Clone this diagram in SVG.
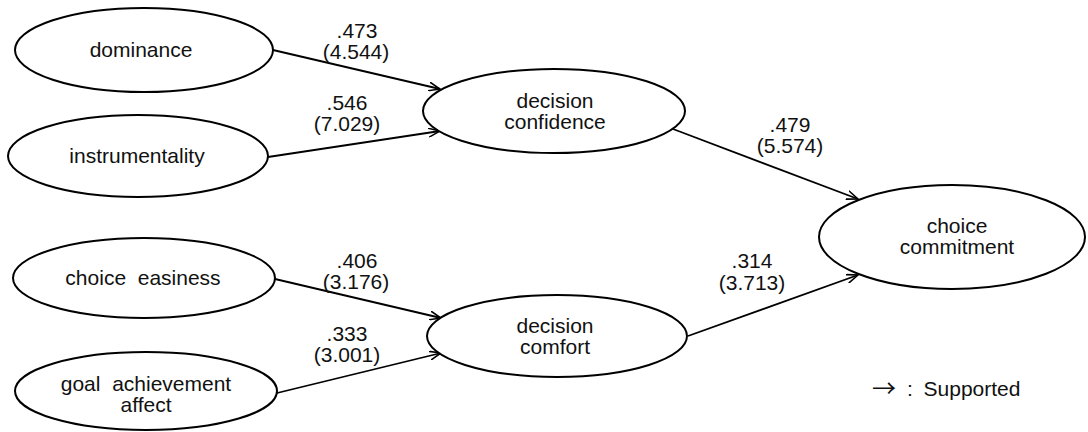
<svg xmlns="http://www.w3.org/2000/svg" width="1088" height="432" viewBox="0 0 1088 432">
<style>
  .node ellipse { fill: #ffffff; stroke: #000000; stroke-width: 2; }
  text { font-family: "Liberation Sans", Arial, sans-serif; font-size: 21px; fill: #111111; text-anchor: middle; white-space: pre; }
  .edge { stroke: #000000; stroke-width: 1.8; fill: none; marker-end: url(#arr); }
</style>
<defs>
  <marker id="arr" markerUnits="userSpaceOnUse" viewBox="0 0 12 10" refX="11.5" refY="5" markerWidth="12" markerHeight="10" orient="auto">
    <path d="M0,0.5 L11.5,5 L0,9.5" fill="none" stroke="#000000" stroke-width="1.6"/>
  </marker>
</defs>
<rect width="1088" height="432" fill="#ffffff"/>
<g id="connectors">
  <line class="edge" x1="273" y1="50" x2="440" y2="89"/>
  <line class="edge" x1="268" y1="157" x2="440" y2="131"/>
  <line class="edge" x1="275" y1="279" x2="441" y2="318"/>
  <line class="edge" x1="277" y1="393" x2="441" y2="353"/>
  <line class="edge" x1="673" y1="129" x2="858" y2="199"/>
  <line class="edge" x1="688" y1="336" x2="858" y2="275"/>
  <text x="357" y="38">.473</text>
  <text x="356" y="59">(4.544)</text>
  <text x="347" y="110">.546</text>
  <text x="347" y="131">(7.029)</text>
  <text x="357" y="268">.406</text>
  <text x="356" y="289">(3.176)</text>
  <text x="347" y="341">.333</text>
  <text x="347" y="362">(3.001)</text>
  <text x="790" y="132">.479</text>
  <text x="790" y="153">(5.574)</text>
  <text x="752" y="268">.314</text>
  <text x="752" y="290">(3.713)</text>
</g>
<g id="dominance" class="node">
  <ellipse cx="144" cy="50" rx="129" ry="42"/>
  <text x="141" y="57">dominance</text>
</g>
<g id="instrumentality" class="node">
  <ellipse cx="138" cy="156" rx="130" ry="41"/>
  <text x="137" y="163">instrumentality</text>
</g>
<g id="choice-easiness" class="node">
  <ellipse cx="144" cy="278" rx="131" ry="40"/>
  <text x="143" y="285">choice  easiness</text>
</g>
<g id="goal-achievement-affect" class="node">
  <ellipse cx="146" cy="391" rx="131" ry="39"/>
  <text x="146" y="391">goal  achievement</text>
  <text x="146" y="412">affect</text>
</g>
<g id="decision-confidence" class="node">
  <ellipse cx="554" cy="111" rx="131" ry="42"/>
  <text x="555" y="108">decision</text>
  <text x="555" y="129">confidence</text>
</g>
<g id="decision-comfort" class="node">
  <ellipse cx="557" cy="336" rx="130" ry="41"/>
  <text x="555" y="333">decision</text>
  <text x="555" y="354">comfort</text>
</g>
<g id="choice-commitment" class="node">
  <ellipse cx="952" cy="237" rx="133" ry="52"/>
  <text x="957" y="233">choice</text>
  <text x="957" y="254">commitment</text>
</g>
<g id="legend">
  <text x="884" y="397" style="font-family: 'Noto Sans CJK SC', sans-serif; font-size: 24px;">→</text>
  <text x="910" y="396">:</text>
  <text x="972" y="396">Supported</text>
</g>
</svg>
